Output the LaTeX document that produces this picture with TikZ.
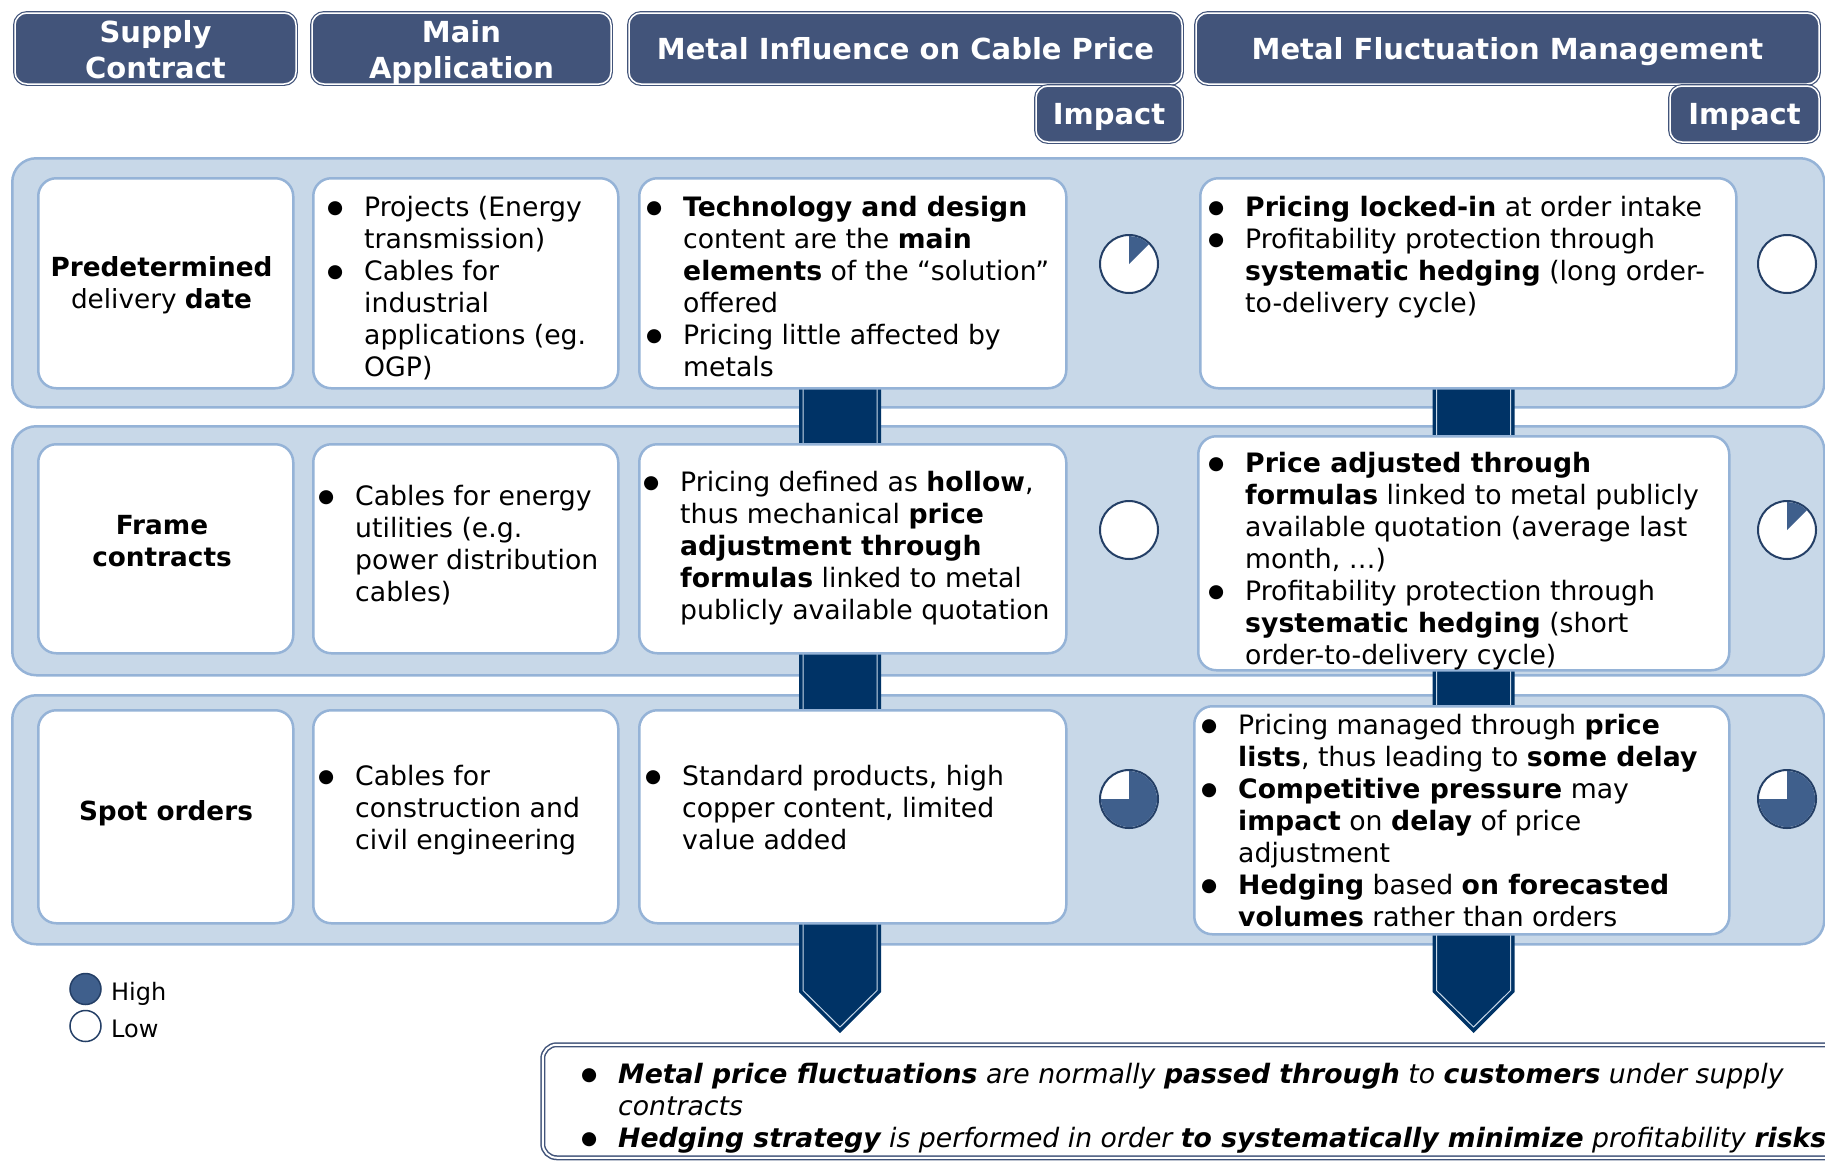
\documentclass[tikz,border=0pt]{standalone}
\usepackage{fontspec}
\setmainfont{DejaVu Sans}[BoldFont={DejaVu Sans Bold},ItalicFont={DejaVu Sans Oblique},BoldItalicFont={DejaVu Sans Bold Oblique}]
\definecolor{hdrc}{HTML}{42547A}
\definecolor{bandc}{HTML}{C8D8E8}
\definecolor{bandl}{HTML}{95B3D7}
\definecolor{arrc}{HTML}{003366}
\definecolor{arrin}{HTML}{C8D8E8}
\definecolor{piec}{HTML}{3F5F8C}
\definecolor{piel}{HTML}{243F66}
\newcommand\bdot{\raisebox{2.5pt}{\upshape\fontsize{18.5}{18.5}\selectfont ●}}
\newcommand\bl{\par\hangindent=40pt\hangafter=1\noindent\strut\hbox to 40pt{\hskip11pt\makebox[0pt]{\bdot}\hfil}}
\begin{document}
\begin{tikzpicture}[x=1pt,y=-1pt,
  hdr/.style={rectangle, rounded corners=12pt, fill=hdrc, draw=hdrc, double=white, double distance=1.5pt, line width=1.2pt, inner sep=0pt},
  htxt/.style={anchor=base, inner sep=0pt, text=white, font=\fontsize{29}{36}\selectfont\bfseries},
  band/.style={rectangle, rounded corners=24pt, fill=bandc, draw=bandl, line width=2.5pt, inner sep=0pt, anchor=north west},
  cell/.style={rectangle, rounded corners=18pt, fill=white, draw=bandl, line width=2.5pt, inner sep=0pt, anchor=north west},
  txt/.style={anchor=base west, inner sep=0pt, font=\fontsize{26.7}{32}\selectfont},
  ctxt/.style={align=center, inner sep=0pt, font=\fontsize{26.3}{32}\selectfont},
  pie/.style={circle, minimum size=58pt, inner sep=0pt, fill=white, draw=piel, line width=2pt},
  lg/.style={circle, minimum size=31pt, inner sep=0pt, draw=piel, line width=1.5pt},
  botbox/.style={rectangle, rounded corners=14pt, fill=white, draw=hdrc, double=white, double distance=2pt, line width=1.5pt, inner sep=0pt, anchor=north west}
]
\useasboundingbox (0,0) rectangle (1825,1160);
\clip (0,0) rectangle (1825,1160);

% headers
\node[hdr, minimum width=281pt, minimum height=71pt] (hsup) at (155.5,48.5) {};
\node[htxt] (hsupa) at (155.5,42) {Supply};
\node[htxt] (hsupb) at (155.5,78) {Contract};
\node[hdr, minimum width=299pt, minimum height=71pt] (hmain) at (461.5,48.5) {};
\node[htxt] (hmaina) at (461.5,42) {Main};
\node[htxt] (hmainb) at (461.5,78) {Application};
\node[hdr, minimum width=553pt, minimum height=71pt] (hmi) at (905.5,48.5) {};
\node[htxt] (hmit) at (905.5,59) {Metal Influence on Cable Price};
\node[hdr, minimum width=623pt, minimum height=71pt] (hmf) at (1507.5,48.5) {};
\node[htxt] (hmft) at (1507.5,59) {Metal Fluctuation Management};
\node[hdr, minimum width=146pt, minimum height=56pt] (imp1) at (1109,114) {};
\node[htxt] (imp1t) at (1109,124) {Impact};
\node[hdr, minimum width=149pt, minimum height=56pt] (imp2) at (1744.5,114) {};
\node[htxt] (imp2t) at (1744.5,124) {Impact};

% bands
\node[band, minimum width=1812pt, minimum height=249pt] (b1) at (11,157) {};
\node[band, minimum width=1812pt, minimum height=249pt] (b2) at (11,425) {};
\node[band, minimum width=1812pt, minimum height=249pt] (b3) at (11,694) {};

% arrows
\foreach \cx in {840,1473.5} {
  \fill[arrc] ({\cx-41},370) -- ({\cx+41},370) -- ({\cx+41},992) -- (\cx,1033) -- ({\cx-41},992) -- cycle;
  \draw[arrin, line width=1pt] ({\cx-37},370) -- ({\cx-37},990.5) -- (\cx,1027) -- ({\cx+37},990.5) -- ({\cx+37},370);
}

% cells
\node[cell, minimum width=255pt, minimum height=210pt] (c11) at (37,177) {};
\node[cell, minimum width=305pt, minimum height=210pt] (c12) at (312,177) {};
\node[cell, minimum width=427pt, minimum height=210pt] (c13) at (638,177) {};
\node[cell, minimum width=536pt, minimum height=210pt] (c14) at (1199,177) {};
\node[cell, minimum width=255pt, minimum height=209pt] (c21) at (37,443) {};
\node[cell, minimum width=305pt, minimum height=209pt] (c22) at (312,443) {};
\node[cell, minimum width=427pt, minimum height=209pt] (c23) at (638,443) {};
\node[cell, minimum width=531pt, minimum height=234pt] (c24) at (1197,435) {};
\node[cell, minimum width=255pt, minimum height=213pt] (c31) at (37,709) {};
\node[cell, minimum width=305pt, minimum height=213pt] (c32) at (312,709) {};
\node[cell, minimum width=427pt, minimum height=213pt] (c33) at (638,709) {};
\node[cell, minimum width=535pt, minimum height=228pt] (c34) at (1193,705) {};

% column 1 texts
\node[ctxt] (t11) at (161.5,285) {\textbf{Predetermined}\\delivery \textbf{date}};
\node[ctxt] (t21) at (162,541) {\textbf{Frame}\\\textbf{contracts}};
\node[txt, anchor=base, font=\fontsize{26.3}{32}\selectfont] (t31) at (166,820) {\textbf{Spot orders}};

% bullet texts
\node[txt] (t12) at (324,216) {\parbox[t]{800pt}{\bl Projects (Energy\newline transmission)\bl Cables for\newline industrial\newline applications (eg.\newline OGP)}};
\node[txt] (t13) at (643,216) {\parbox[t]{800pt}{\bl \textbf{Technology and design}\newline content are the \textbf{main}\newline \textbf{elements} of the “solution”\newline offered\bl Pricing little affected by\newline metals}};
\node[txt] (t14) at (1205,216) {\parbox[t]{800pt}{\bl \textbf{Pricing locked-in} at order intake\bl Profitability protection through\newline \textbf{systematic hedging} (long order-\newline to-delivery cycle)}};
\node[txt] (t22) at (315,505) {\parbox[t]{800pt}{\bl Cables for energy\newline utilities (e.g.\newline power distribution\newline cables)}};
\node[txt] (t23) at (640,491) {\parbox[t]{800pt}{\bl Pricing defined as \textbf{hollow},\newline thus mechanical \textbf{price}\newline \textbf{adjustment through}\newline \textbf{formulas} linked to metal\newline publicly available quotation}};
\node[txt] (t24) at (1205,472) {\parbox[t]{800pt}{\bl \textbf{Price adjusted through}\newline \textbf{formulas} linked to metal publicly\newline available quotation (average last\newline month, …)\bl Profitability protection through\newline \textbf{systematic hedging} (short\newline order-to-delivery cycle)}};
\node[txt] (t32) at (315,785) {\parbox[t]{800pt}{\bl Cables for\newline construction and\newline civil engineering}};
\node[txt] (t33) at (642,785) {\parbox[t]{800pt}{\bl Standard products, high\newline copper content, limited\newline value added}};
\node[txt] (t34) at (1198,734) {\parbox[t]{800pt}{\bl Pricing managed through \textbf{price}\newline \textbf{lists}, thus leading to \textbf{some delay}\bl \textbf{Competitive pressure} may\newline \textbf{impact} on \textbf{delay} of price\newline adjustment\bl \textbf{Hedging} based \textbf{on forecasted}\newline \textbf{volumes} rather than orders}};

% pies
\node[pie] (p13) at (1129,264) {};
\fill[piec] (p13.center) -- ++(-90:28) arc[start angle=-90, end angle=-45, radius=28] -- cycle;
\node[pie] (p14) at (1787,264) {};
\node[pie] (p23) at (1129,530) {};
\node[pie] (p24) at (1787,530) {};
\fill[piec] (p24.center) -- ++(-90:28) arc[start angle=-90, end angle=-45, radius=28] -- cycle;
\node[pie] (p33) at (1129,799) {};
\fill[piec] (p33.center) -- ++(-90:28) arc[start angle=-90, end angle=180, radius=28] -- cycle;
\node[pie] (p34) at (1787,799) {};
\fill[piec] (p34.center) -- ++(-90:28) arc[start angle=-90, end angle=180, radius=28] -- cycle;

% legend
\node[lg, fill=piec] (lhi) at (85.5,989) {};
\node[lg, fill=white] (llo) at (85.5,1026) {};
\node[anchor=base west, inner sep=0pt, font=\fontsize{24}{28}\selectfont] (thi) at (111,1000) {High};
\node[anchor=base west, inner sep=0pt, font=\fontsize{24}{28}\selectfont] (tlo) at (111,1037) {Low};

% bottom box
\node[botbox, minimum width=1310pt, minimum height=113pt] (bot) at (542,1044) {};
\node[txt] (tbot) at (578,1083) {\parbox[t]{1400pt}{\itshape\bl \textbf{Metal price fluctuations} are normally \textbf{passed through} to \textbf{customers} under supply\newline contracts\bl \textbf{Hedging strategy} is performed in order \textbf{to systematically minimize} profitability \textbf{risks}}};
\end{tikzpicture}
\end{document}
